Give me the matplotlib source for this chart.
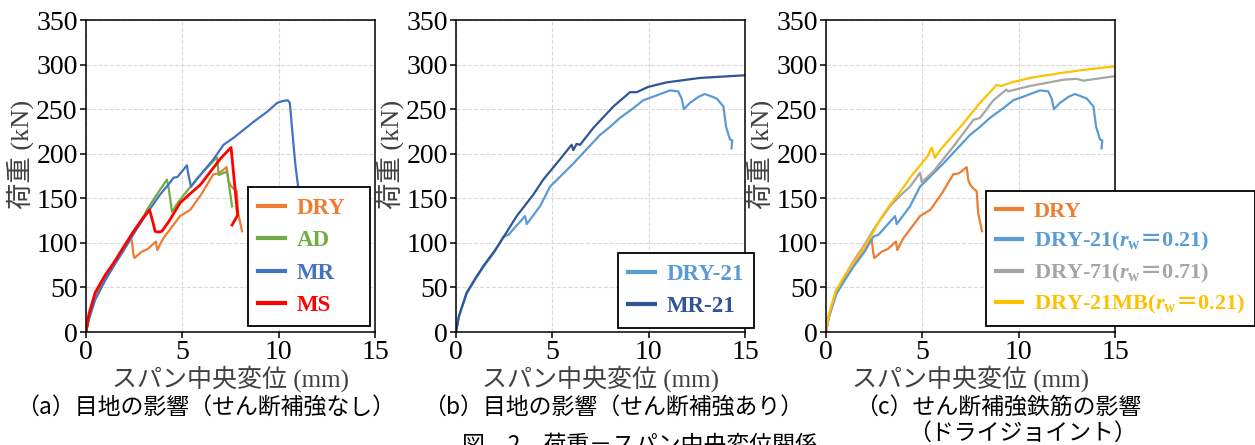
import matplotlib
matplotlib.use("Agg")
from matplotlib import pyplot as plt

plt.rcParams['font.family'] = ['Liberation Serif', 'Noto Sans CJK JP']
plt.rcParams['mathtext.fontset'] = 'custom'
plt.rcParams['mathtext.it'] = 'Liberation Serif:bold:italic'
plt.rcParams['mathtext.rm'] = 'Liberation Serif:bold'
plt.rcParams['mathtext.sf'] = 'Noto Sans CJK JP:bold'

# ---- data: (a) joint effect, no shear reinforcement ----
dry_x = [0, 0.15, 0.47, 1.0, 1.42, 2.0, 2.29, 2.37, 2.46, 2.51, 2.89, 3.2, 3.63, 3.7, 4.01, 4.88, 5.41,
         6.0, 6.61, 6.9, 7.3, 7.39, 7.49, 7.65, 7.82, 7.9, 8.1]
dry_y = [0, 17, 41, 62, 76, 95, 104, 103, 88, 83, 90, 93, 101.5, 92, 105, 130, 137,
         155, 177, 178, 185, 170, 165, 161, 158, 133, 113]

ad_x = [0, 0.15, 0.47, 1.0, 1.42, 2.0, 2.5, 3.0, 3.16, 3.7, 4.2, 4.3, 4.4, 4.46, 4.8, 5.24, 5.8, 6.4,
        6.8, 6.89, 7.1, 7.32, 7.41, 7.58]
ad_y = [0, 15, 37, 60, 75, 95, 113, 130, 137, 155, 171, 160, 145, 135, 146, 158, 173, 187,
        196, 176, 178, 180, 167, 141]

mr_x = [0, 0.15, 0.47, 1.0, 1.5, 2.0, 2.5, 3.16, 3.8, 4.3, 4.54, 4.75, 5.24, 5.3, 5.45, 5.93, 6.62,
        7.14, 7.67, 8.19, 8.71, 9.4, 9.92, 10.2, 10.47, 10.58, 10.75, 10.87, 11.01, 11.15]
mr_y = [0, 14, 36, 58, 76, 93, 111, 133, 153, 166, 173, 174, 187, 178, 163, 176, 194,
        210, 218, 227, 236, 247, 257, 259, 260, 257, 215, 187, 163, 130]

ms_x = [0, 0.15, 0.47, 1.0, 1.42, 2.0, 2.5, 3.0, 3.3, 3.45, 3.59, 3.75, 3.94, 4.3, 4.89, 5.4, 5.93,
        6.5, 7.0, 7.53, 7.65, 7.87, 7.58]
ms_y = [0, 20, 44, 64, 77, 97, 114, 129, 137, 125, 113, 112, 113, 124, 145, 155, 165,
        181, 195, 207, 180, 131, 120]

# ---- (b) joint effect, with shear reinforcement ----
dry21_x = [0, 0.15, 0.55, 1.0, 1.42, 2.0, 2.46, 2.72, 3.58, 3.63, 3.67, 4.36, 4.88, 6.09, 7.47, 7.99,
           8.5, 9.2, 9.72, 10.24, 11.1, 11.53, 11.71, 11.83, 12.14, 12.6, 12.92, 13.53, 13.88, 14.02,
           14.22, 14.34, 14.3]
dry21_y = [0, 17, 43, 59, 73, 90, 107, 109, 130, 126, 121, 141, 163, 189, 221, 230,
           240, 251, 260, 264, 271, 270, 262, 250, 257, 264, 267, 262, 253, 230,
           216, 215, 206]

mr21_x = [0, 0.15, 0.55, 1.0, 1.42, 2.0, 2.28, 3.15, 4.01, 4.53, 5.22, 6.0, 6.09, 6.26, 6.44, 7.13,
          8.17, 9.03, 9.38, 9.98, 10.93, 12.66, 15.0]
mr21_y = [0, 18, 44, 60, 74, 91, 100, 130, 154, 171, 189, 210, 204, 211, 210, 229,
          253, 269, 269, 275, 280, 285, 288]

# ---- (c) shear reinforcement effect (dry joint) ----
dry71_x = [0, 0.15, 0.5, 1.0, 1.5, 2.0, 2.5, 3.32, 3.8, 4.36, 4.88, 4.97, 5.57, 6.61, 7.65, 7.99, 8.69,
           9.37, 9.46, 10.59, 12.32, 13.01, 13.36, 15.0]
dry71_y = [0, 18, 44, 64, 82, 98, 116, 141, 152, 163, 178.5, 168, 180, 208, 238, 240, 260,
           272, 270, 276, 283, 284, 282, 287]

mb_x = [0, 0.15, 0.5, 1.0, 1.5, 1.94, 2.4, 2.8, 3.3, 3.84, 4.53, 4.7, 5.3, 5.48, 5.66, 5.92, 7.13,
        7.99, 8.85, 9.1, 9.37, 9.72, 10.59, 12.32, 13.18, 15.0]
mb_y = [0, 20, 46, 64, 80, 94, 110, 126, 142, 157, 178, 182, 198, 207, 195.5, 204, 234,
        257, 277, 276, 278, 280.5, 285, 291, 293.5, 298]

xticks = [0, 5, 10, 15]
yticks = [0, 50, 100, 150, 200, 250, 300, 350]

panels = [
    [(dry_x, dry_y, 'DRY', '#ED7D31', 1.6),
     (ad_x, ad_y, 'AD', '#70AD47', 1.6),
     (mr_x, mr_y, 'MR', '#4472C4', 1.6),
     (ms_x, ms_y, 'MS', '#FF0000', 2.0)],
    [(dry21_x, dry21_y, 'DRY-21', '#5B9BD5', 1.6),
     (mr21_x, mr21_y, 'MR-21', '#2F5597', 1.6)],
    [(dry_x, dry_y, 'DRY', '#ED7D31', 1.6),
     (dry21_x, dry21_y, r'DRY-21($r_\mathrm{w}\mathsf{＝}$0.21)', '#5B9BD5', 1.6),
     (dry71_x, dry71_y, r'DRY-71($r_\mathrm{w}\mathsf{＝}$0.71)', '#A5A5A5', 1.6),
     (mb_x, mb_y, r'DRY-21MB($r_\mathrm{w}\mathsf{＝}$0.21)', '#FFC000', 1.6)],
]
leg_size = [16.5, 16.5, 16]
leg_space = [0.5, 0.5, 0.38]
leg_box = [(0.559, 0.018, 0.424, 0.5), (0.559, 0.014), (0.553, 0.018)]

fig = plt.figure(figsize=(12.55, 4.45), dpi=100)
lefts = [86, 456, 826]
for k in range(3):
    ax = fig.add_axes([lefts[k] / 1255, 113 / 445, 289 / 1255, 312 / 445])
    for xs, ys, lab, col, lw in panels[k]:
        ax.plot(xs, ys, color=col, lw=lw, label=lab)
    ax.set_xlim(0, 15)
    ax.set_ylim(0, 350)
    ax.set_xticks(xticks)
    ax.set_yticks(yticks)
    ax.grid(True, color='#d9d9d9', ls='--', lw=0.8)
    ax.set_axisbelow(True)
    ax.tick_params(labelsize=20, length=4, width=1.1, direction='out', colors='black', pad=2)
    for s in ax.spines.values():
        s.set_linewidth(1.1)
    ax.set_xlabel('スパン中央変位 (mm)', fontsize=18, color='#404040', labelpad=0)
    ax.set_ylabel('荷重 (kN)', fontsize=19, color='#404040')
    ax.yaxis.set_label_coords(-0.18, 0.57)
    leg = ax.legend(loc='lower left', bbox_to_anchor=leg_box[k], borderaxespad=0,
                    mode='expand' if k == 0 else None,
                    prop={'family': ['Liberation Serif', 'Noto Sans CJK JP'], 'weight': 'bold',
                          'size': leg_size[k]},
                    frameon=True, fancybox=False, framealpha=1, edgecolor='black',
                    handlelength=1.2, handletextpad=0.5, labelspacing=leg_space[k], borderpad=0.45)
    leg.get_frame().set_linewidth(1.3)
    for ln, txt in zip(leg.get_lines(), leg.get_texts()):
        ln.set_linewidth(3)
        txt.set_color(ln.get_color())

cap = dict(family='Noto Sans CJK JP', fontsize=16.5, ha='center', va='center')
fig.text(206 / 1255, 1 - 407 / 445, '（a）目地の影響（せん断補強なし）', **cap)
fig.text(613 / 1255, 1 - 407 / 445, '（b）目地の影響（せん断補強あり）', **cap)
fig.text(998 / 1255, 1 - 407 / 445, '（c）せん断補強鉄筋の影響', **cap)
fig.text(1022 / 1255, 1 - 433 / 445, '（ドライジョイント）', **cap)
fig.text(462 / 1255, 1 - 434 / 445, '図　2　荷重－スパン中央変位関係',
         family='Noto Sans CJK JP', fontsize=16.5, ha='left', va='top')

fig.savefig('out.png', dpi=100)
